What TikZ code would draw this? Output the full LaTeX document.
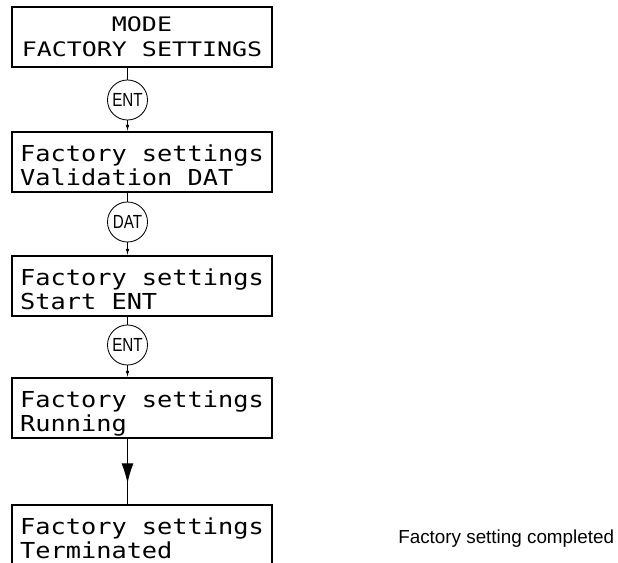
\documentclass[tikz,border=0pt]{standalone}
\usepackage{fontspec}
\setmainfont{Liberation Sans}
\newfontfamily\lcdfont[FakeStretch=1.15]{DejaVu Sans Mono}
\newfontfamily\lcdwidefont[FakeStretch=1.25]{DejaVu Sans Mono}
\newfontfamily\keyfont[FakeStretch=0.8]{Liberation Sans}
\usetikzlibrary{arrows.meta, positioning, calc, decorations.markings}

\begin{document}
\begin{tikzpicture}[
  x=0.025cm, y=-0.025cm,
  screen/.style={draw, line width=1pt, minimum width=6.5cm, minimum height=1.5cm,
    inner xsep=0pt, inner ysep=0pt, align=left, text height=1.325cm, text depth=0.175cm,
    font=\lcdfont\fontsize{15.65pt}{16.4pt}\selectfont},
  title/.style={screen, align=center, text height=1.25cm, text depth=0.25cm,
    font=\lcdwidefont\fontsize{14.2pt}{17.8pt}\selectfont},
  key/.style={circle, draw, line width=0.6pt, minimum size=1cm, inner sep=0pt,
    font=\keyfont\fontsize{13.5pt}{13.5pt}\selectfont},
  link/.style={line width=0.7pt},
  >={Latex[length=0.16cm, width=0.09cm]}
]
  \useasboundingbox (0,0) rectangle (618,563);
  \clip (0,0) rectangle (618,563);
  % Display screens
  \node[title] (mode) at (142, 37) {MODE\\FACTORY SETTINGS};
  \node[screen] (valid) at (142, 162) {Factory settings\\Validation DAT};
  \node[screen] (start) at (142, 286) {Factory settings\\Start ENT};
  \node[screen] (run) at (142, 408) {Factory settings\\Running};
  \node[screen] (term) at (142, 535) {Factory settings\\Terminated};
  % Keys
  \node[key] (enta) at (127.5, 100) {ENT};
  \node[key] (dat) at (127.5, 222) {DAT};
  \node[key] (entb) at (127.5, 345) {ENT};
  % Links
  \draw[link] (enta |- mode.south) -- (enta.north);
  \draw[link, ->] (enta.south) -- (enta |- valid.north);
  \draw[link] (dat |- valid.south) -- (dat.north);
  \draw[link, ->] (dat.south) -- (dat |- start.north);
  \draw[link] (entb |- start.south) -- (entb.north);
  \draw[link, ->] (entb.south) -- (entb |- run.north);
  \draw[link, postaction={decorate}, decoration={markings,
    mark=at position 0.68 with {\arrow{Latex[length=0.5cm, width=0.3cm]}}}]
    (entb |- run.south) -- (entb |- term.north);
  % Note
  \node[anchor=base west, inner sep=0pt, font=\fontsize{13.4pt}{16pt}\selectfont]
    (note) at (398, 543) {Factory setting completed};
\end{tikzpicture}
\end{document}
